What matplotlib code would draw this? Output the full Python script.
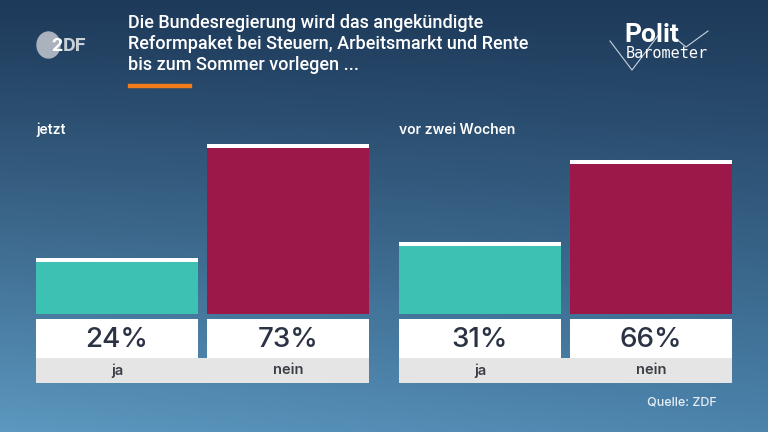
import matplotlib

matplotlib.use("Agg")
import matplotlib.pyplot as plt
import numpy as np
from matplotlib.patches import Ellipse, Rectangle

# data
categories = ["ja", "nein"]
panels = ["jetzt", "vor zwei Wochen"]
values_now = [24, 73]
values_before = [31, 66]
bar_colors = ["#3dc1b3", "#9b1848"]
title = "Die Bundesregierung wird das angekündigte\nReformpaket bei Steuern, Arbeitsmarkt und Rente\nbis zum Sommer vorlegen ..."
source = "Quelle: ZDF"

W, H = 768, 432
PX_PER_PCT = 2.33
FONT = ["Roboto", "DejaVu Sans"]
UI = ["Inter", "Roboto", "DejaVu Sans"]

fig = plt.figure(figsize=(W / 100, H / 100), dpi=100)

# background gradient
bg = fig.add_axes([0, 0, 1, 1])
yy, xx = np.mgrid[0:1:200j, 0:1:200j]
top = np.array([0x1e, 0x3a, 0x5a]) / 255
bot_l = np.array([0x5c, 0x98, 0xc0]) / 255
bot_r = np.array([0x4c, 0x84, 0xac]) / 255
t = yy[..., None] ** 1.1
bottom = bot_l * (1 - xx[..., None]) + bot_r * xx[..., None]
img = top * (1 - t) + bottom * t
bg.imshow(img, extent=[0, W, H, 0], aspect="auto")
bg.set_xlim(0, W)
bg.set_ylim(H, 0)
bg.axis("off")

# ZDF logo
bg.add_patch(Ellipse((48.5, 45), 23, 26, color="#a9b2bd"))
bg.text(51, 46, "2", color="white", fontsize=14, fontweight="bold", va="center", ha="left", family=FONT)
bg.text(63, 46, "DF", color="#c9d0d8", fontsize=14, fontweight="bold", va="center", ha="left", family=FONT)

# Politbarometer logo
bg.plot([610, 632, 660], [41, 70, 33], color="#c8d2de", lw=0.8)
bg.plot([674, 686, 708], [37, 47, 31], color="#c8d2de", lw=0.8)
bg.text(624, 35, "Polit", color="white", fontsize=19, fontweight="bold", va="center", ha="left", family=FONT)
bg.text(626, 53.5, "Barometer", color="white", fontsize=11, va="center", ha="left",
        family=["DejaVu Sans Mono"])

# title + accent line
bg.text(128, 14, title, color="white", fontsize=13, va="top", ha="left", linespacing=1.2,
        family=FONT, fontweight="medium")
bg.add_patch(Rectangle((128, 83.5), 63, 3.5, color="#f07d1a"))

# bar panels
bar_bottom_px = 314
strip_bottom_px = 383
ymin = -(strip_bottom_px - bar_bottom_px) / PX_PER_PCT
ymax = (bar_bottom_px - 81) / PX_PER_PCT
panel_left = [36, 399]
panel_w = 333
width = 162 / 171
x = np.arange(len(categories))


def px_to_pct(px):
    return -(px - bar_bottom_px) / PX_PER_PCT


for left, label, vals in zip(panel_left, panels, [values_now, values_before]):
    ax = fig.add_axes([left / W, (H - strip_bottom_px) / H, panel_w / W, (strip_bottom_px - 81) / H])
    ax.set_xlim(-width / 2, 1 + width / 2)
    ax.set_ylim(ymin, ymax)
    ax.axis("off")
    cap = 1.7
    ax.bar(x, vals, width=width, color=bar_colors, linewidth=0)
    ax.bar(x, cap, bottom=np.array(vals) - cap, width=width, color="white", linewidth=0)
    # value boxes
    box_top = px_to_pct(319)
    box_bot = px_to_pct(358)
    ax.bar(x, box_top - box_bot, bottom=box_bot, width=width, color="white", linewidth=0)
    ax.add_patch(Rectangle((-width / 2, ymin), 1 + width, box_bot - ymin, color="#e6e5e5", linewidth=0))
    for xi, v, c in zip(x, vals, categories):
        ax.text(xi, (box_top + box_bot) / 2 - 0.5, f"{v}%", ha="center", va="center",
                fontsize=20, fontweight="medium", color="#2b3244", family=UI)
        ax.text(xi, (box_bot + ymin) / 2, c, ha="center", va="center",
                fontsize=10.5, fontweight="semibold", color="#3a3d45", family=UI)
    bg.text(left, 130, label, color="white", fontsize=10, fontweight="semibold",
            va="center", ha="left", family=UI)

bg.text(717, 403, source, color="#e6eef6", fontsize=9, fontweight="medium", va="center", ha="right",
        family=UI)

fig.savefig("out.png", dpi=100)
